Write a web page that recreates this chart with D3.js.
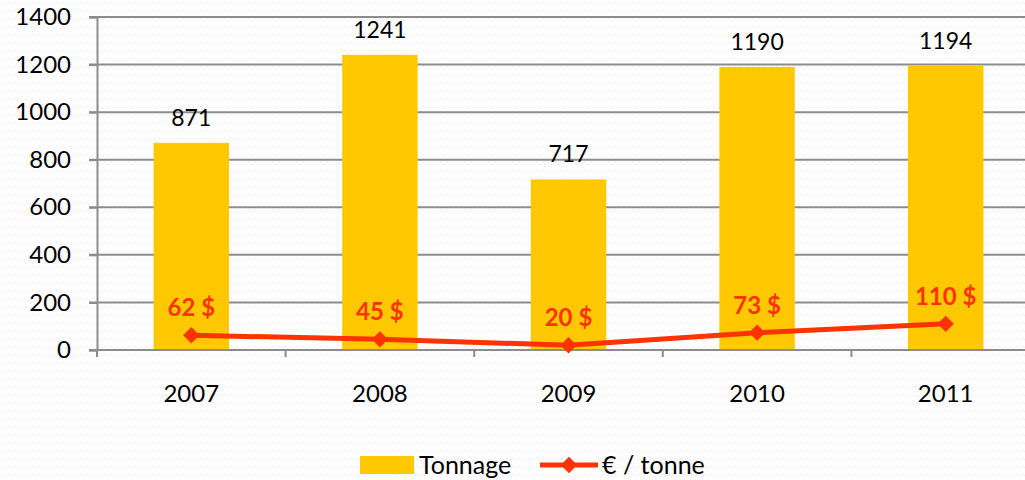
<!DOCTYPE html>
<meta charset="utf-8">
<html>
<head>
<title>Tonnage</title>
<script src="https://d3js.org/d3.v7.min.js"></script>
<style>
  body { margin: 0; background: #fff; font-family: Lato, "Open Sans", sans-serif; }
  .axis text { font: 24px Lato, "Open Sans", sans-serif; fill: #000; }
  .grid line { stroke: #8c8c8c; stroke-width: 2px; }
  .bar-label { font: 23px Lato, "Open Sans", sans-serif; fill: #000; }
  .price-label { font: bold 24px Lato, "Open Sans", sans-serif; fill: #ff3300; }
  .legend text { font: 25px Lato, "Open Sans", sans-serif; fill: #000; }
</style>
</head>
<body>
<svg id="chart" width="1025" height="480"></svg>
<script>
var years = ["2007", "2008", "2009", "2010", "2011"];
var tonnage = [871, 1241, 717, 1190, 1194];
var price = [62, 45, 20, 73, 110];
var yTicks = [0, 200, 400, 600, 800, 1000, 1200, 1400];

var data = years.map(function (y, i) {
  return { year: y, tonnage: tonnage[i], price: price[i] };
});

var svg = d3.select("#chart");

// faint zigzag background
var pat = svg.append("defs").append("pattern")
    .attr("id", "zig")
    .attr("width", 12).attr("height", 8)
    .attr("patternUnits", "userSpaceOnUse");
pat.append("rect").attr("width", 12).attr("height", 8).attr("fill", "#fff");
pat.append("path")
    .attr("d", "M0,5 L3,2 L6,5 L9,2 L12,5")
    .attr("fill", "none").attr("stroke", "#f2f2f2").attr("stroke-width", 1);
svg.append("rect").attr("width", 1025).attr("height", 480).attr("fill", "url(#zig)");

var m = { left: 97, right: 1040, top: 17, bottom: 350 };

var x = d3.scaleBand().domain(years).range([m.left, m.right]).paddingInner(0.6).paddingOuter(0.3);
var xb = d3.scaleBand().domain(years).range([m.left, m.right]);
var y = d3.scaleLinear().domain([0, 1400]).range([m.bottom, m.top]);

// gridlines
svg.append("g").attr("class", "grid")
  .selectAll("line").data(yTicks.slice(1)).enter().append("line")
    .attr("x1", m.left - 8).attr("x2", 1025)
    .attr("y1", function (d) { return y(d); })
    .attr("y2", function (d) { return y(d); });

// bars
svg.append("g").selectAll("rect").data(data).enter().append("rect")
    .attr("x", function (d) { return x(d.year); })
    .attr("width", x.bandwidth())
    .attr("y", function (d) { return y(d.tonnage); })
    .attr("height", function (d) { return y(0) - y(d.tonnage); })
    .attr("fill", "#ffc800");

// y axis
var yAxis = svg.append("g").attr("class", "axis")
    .attr("transform", "translate(" + m.left + ",0)")
    .call(d3.axisLeft(y).tickValues(yTicks).tickFormat(d3.format("d")).tickSize(8).tickPadding(18));
yAxis.select(".domain").attr("stroke", "#8c8c8c").attr("stroke-width", 2);
yAxis.selectAll(".tick line").attr("stroke", "#8c8c8c").attr("stroke-width", 2);

// x axis with ticks at category boundaries
var xg = svg.append("g").attr("class", "axis");
xg.append("line")
    .attr("x1", m.left - 8).attr("x2", 1025)
    .attr("y1", m.bottom).attr("y2", m.bottom)
    .attr("stroke", "#8c8c8c").attr("stroke-width", 2);
xg.selectAll(".bt").data(years).enter().append("line")
    .attr("x1", function (d) { return xb(d); })
    .attr("x2", function (d) { return xb(d); })
    .attr("y1", m.bottom).attr("y2", m.bottom + 7)
    .attr("stroke", "#8c8c8c").attr("stroke-width", 2);
xg.selectAll("text").data(years).enter().append("text")
    .attr("x", function (d) { return xb(d) + xb.bandwidth() / 2; })
    .attr("y", 402)
    .attr("text-anchor", "middle")
    .text(function (d) { return d; });

// tonnage labels
svg.append("g").selectAll("text").data(data).enter().append("text")
    .attr("class", "bar-label")
    .attr("x", function (d) { return x(d.year) + x.bandwidth() / 2; })
    .attr("y", function (d) { return y(d.tonnage) - 17; })
    .attr("text-anchor", "middle")
    .text(function (d) { return d.tonnage; });

// price line
var cx = function (d) { return x(d.year) + x.bandwidth() / 2; };
var line = d3.line().x(cx).y(function (d) { return y(d.price); });
svg.append("path").datum(data)
    .attr("d", line)
    .attr("fill", "none")
    .attr("stroke", "#ff3300")
    .attr("stroke-width", 5);

var diamond = d3.symbol().type(d3.symbolDiamond2).size(170);
svg.append("g").selectAll("path").data(data).enter().append("path")
    .attr("d", diamond)
    .attr("transform", function (d) { return "translate(" + cx(d) + "," + y(d.price) + ")"; })
    .attr("fill", "#ff3300");

svg.append("g").selectAll("text").data(data).enter().append("text")
    .attr("class", "price-label")
    .attr("x", cx)
    .attr("y", function (d) { return y(d.price) - 19; })
    .attr("text-anchor", "middle")
    .text(function (d) { return d.price + " $"; });

// legend
var lg = svg.append("g").attr("class", "legend").attr("transform", "translate(360,465)");
lg.append("rect").attr("x", 0).attr("y", -9).attr("width", 54).attr("height", 18).attr("fill", "#ffc800");
lg.append("text").attr("x", 59).attr("y", 9).text("Tonnage");
lg.append("line").attr("x1", 180).attr("x2", 238).attr("y1", 0).attr("y2", 0)
    .attr("stroke", "#ff3300").attr("stroke-width", 5);
lg.append("path").attr("d", diamond).attr("transform", "translate(209,0)").attr("fill", "#ff3300");
lg.append("text").attr("x", 242).attr("y", 9).text("€ / tonne");
</script>
</body>
</html>
